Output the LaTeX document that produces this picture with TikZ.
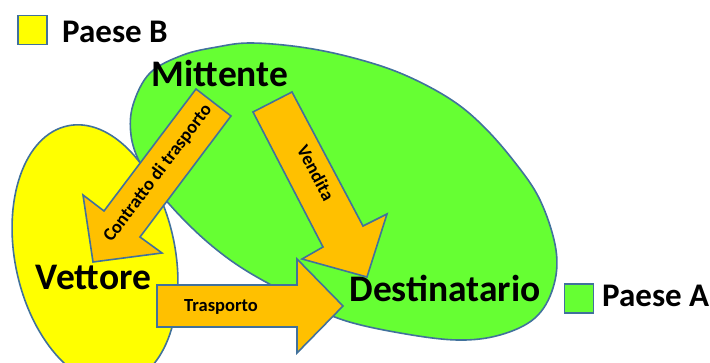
\documentclass[tikz,border=0pt]{standalone}
\usepackage{fontspec}
\setmainfont{Carlito}
\usepackage{tkz-euclide}

\definecolor{countryA}{RGB}{102,255,51}
\definecolor{countryB}{RGB}{255,255,0}
\definecolor{arrowfill}{RGB}{255,192,0}
\definecolor{outline}{RGB}{65,113,156}

\tikzset{
  region/.style={draw=outline, line width=1.6pt},
  blockarrow/.style={draw=outline, fill=arrowfill, line width=1.6pt, line join=miter},
  legendbox/.style={region, minimum size=29pt, inner sep=0pt},
  party/.style={font=\bfseries\fontsize{37.5}{42}\selectfont, anchor=base, inner sep=0pt},
  legendtext/.style={font=\bfseries\fontsize{33}{38}\selectfont, anchor=base west, inner sep=0pt},
  relation/.style={font=\bfseries\fontsize{18.5}{21}\selectfont, inner sep=0pt},
}

\begin{document}
\begin{tikzpicture}[x=1pt,y=1pt]
    \useasboundingbox (0,0) rectangle (710,363);
    % Paese A and Paese B
    \draw[region, fill=countryA] plot[smooth cycle, tension=0.6] coordinates {
        (250,320) (300,316) (350,306) (400,290) (447,266) (480,240) (513,203)
        (540,163) (556,113) (553,75) (535,45) (500,28) (457,23) (400,30)
        (343,43) (300,63) (250,90) (217,113) (187,140) (160,170) (140,200)
        (131,228) (133,258) (150,290) (183,308) (217,316)};
    \draw[region, fill=countryB, rotate around={12:(95,108)}] (95,108) ellipse (80 and 132);
    % contratto di trasporto
    \tkzDefPoints{196/274/ct1, 104/152/ct2, 83/168/ct3, 93/101/ct4, 162/110/ct5, 140/126/ct6, 231/247/ct7}
    \tkzDrawPolygon[blockarrow](ct1,ct2,ct3,ct4,ct5,ct6,ct7)
    % vendita
    \tkzDefPoints{253/251/vd1, 323/116/vd2, 302/104/vd3, 367/86/vd4, 387/149/vd5, 363/137/vd6, 292/271/vd7}
    \tkzDrawPolygon[blockarrow](vd1,vd2,vd3,vd4,vd5,vd6,vd7)
    % trasporto
    \tkzDefPoints{157/78/tr1, 297/78/tr2, 297/104/tr3, 343/57/tr4, 297/10/tr5, 297/36/tr6, 157/36/tr7}
    \tkzDrawPolygon[blockarrow](tr1,tr2,tr3,tr4,tr5,tr6,tr7)
    % labels
    \node[party] (mitt) at (220,276) {Mittente};
    \node[party] (vett) at (93.5,73) {Vettore};
    \node[party] (dest) at (445,61) {Destinatario};
    \node[relation, rotate=53] (contr) at (158,190) {Contratto di trasporto};
    \node[relation, rotate=-62] (vend) at (316,190) {Vendita};
    \node[relation, anchor=base] (trasp) at (221,51) {Trasporto};
    % legend
    \node[legendbox, fill=countryB] (boxB) at (32.5,333) {};
    \node[legendtext] (paeseB) at (62,320) {Paese B};
    \node[legendbox, fill=countryA] (boxA) at (579,64.5) {};
    \node[legendtext] (paeseA) at (602,56) {Paese A};
\end{tikzpicture}
\end{document}
